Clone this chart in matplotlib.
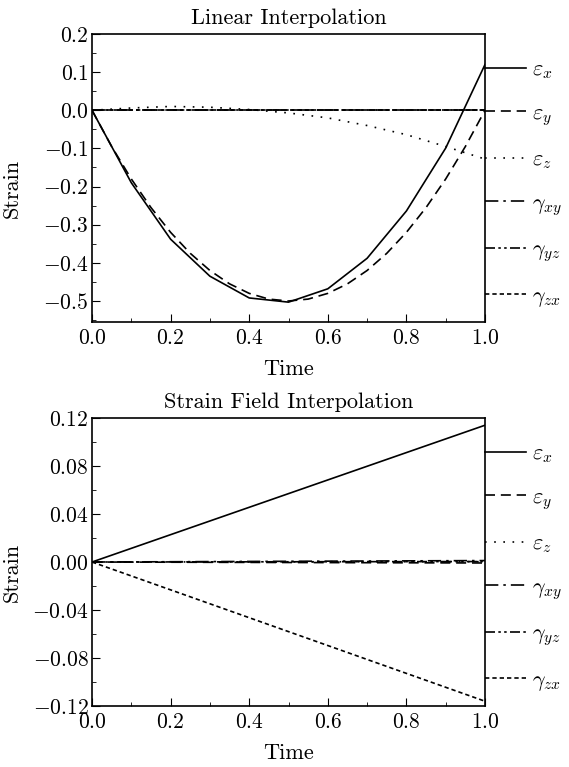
import matplotlib
matplotlib.use("Agg")
import matplotlib.pyplot as plt
from matplotlib.ticker import FuncFormatter

plt.rcParams['font.family'] = 'serif'
plt.rcParams['font.serif'] = ['cmr10', 'DejaVu Serif']
plt.rcParams['mathtext.fontset'] = 'cm'
plt.rcParams['axes.formatter.use_mathtext'] = True

# ---- data: top panel (linear interpolation) ----
t_coarse = [0.0, 0.1, 0.2, 0.3, 0.4, 0.5, 0.6, 0.7, 0.8, 0.9, 1.0]
t_fine = [0.0, 0.05, 0.1, 0.15, 0.2, 0.25, 0.3, 0.35, 0.4, 0.45, 0.5,
          0.55, 0.6, 0.65, 0.7, 0.75, 0.8, 0.85, 0.9, 0.95, 1.0]
lin_ex = [0.0, -0.19, -0.338, -0.435, -0.492, -0.503, -0.468, -0.388, -0.264, -0.099, 0.120]
lin_ey = [0.0, -0.095, -0.18, -0.255, -0.32, -0.375, -0.42, -0.455, -0.48, -0.495, -0.5,
          -0.495, -0.48, -0.455, -0.42, -0.375, -0.32, -0.255, -0.18, -0.095, 0.0]
lin_ez = [0.0, 0.006, 0.010, 0.008, 0.002, -0.007, -0.020, -0.040, -0.064, -0.095, -0.128]
lin_gxy = [0.0, 0.0]
lin_gyz = [0.0, 0.0]
lin_gzx = [0.0, 0.0]

# ---- data: bottom panel (strain field interpolation) ----
t_end = [0.0, 1.0]
sf_ex = [0.0, 0.114]
sf_ey = [0.0, -0.0008]
sf_ez = [0.0, 0.0003]
sf_gxy = [0.0, 0.0012]
sf_gyz = [0.0, 0.0004]
sf_gzx = [0.0, -0.116]

labels = [r'$\varepsilon_x$', r'$\varepsilon_y$', r'$\varepsilon_z$',
          r'$\gamma_{xy}$', r'$\gamma_{yz}$', r'$\gamma_{zx}$']
styles = ['-', (0, (6, 3.5)), (0, (1, 4.5)), (0, (8, 3, 1.5, 3)),
          (0, (6, 2, 1.5, 2, 1.5, 2)), (0, (2.6, 1.8))]

fig = plt.figure(figsize=(5.69, 7.67), dpi=100)
ax1 = fig.add_axes([0.1617, 0.5802, 0.6907, 0.3755])
ax2 = fig.add_axes([0.1617, 0.0795, 0.6907, 0.3755])

top_series = [(t_coarse, lin_ex), (t_fine, lin_ey), (t_coarse, lin_ez),
              (t_end, lin_gxy), (t_end, lin_gyz), (t_end, lin_gzx)]
bot_series = [(t_end, sf_ex), (t_end, sf_ey), (t_end, sf_ez),
              (t_end, sf_gxy), (t_end, sf_gyz), (t_end, sf_gzx)]

for ax, series, title, fmt in [(ax1, top_series, 'Linear Interpolation', '%.1f'),
                               (ax2, bot_series, 'Strain Field Interpolation', '%.2f')]:
    for (x, y), ls, lab in zip(series, styles, labels):
        ax.plot(x, y, color='black', linestyle=ls, linewidth=1.2, label=lab)
    ax.set_xlim(0, 1.0)
    ax.set_xticks([0.0, 0.2, 0.4, 0.6, 0.8, 1.0])
    ax.set_xticks([0.1, 0.3, 0.5, 0.7, 0.9], minor=True)
    ax.tick_params(which='both', direction='in', top=False, right=False, labelsize=15.5)
    ax.tick_params(which='major', length=6, pad=2.5)
    ax.tick_params(axis='x', which='major', pad=5)
    ax.tick_params(which='minor', length=3)
    ax.xaxis.set_major_formatter(FuncFormatter(lambda v, p: '$%.1f$' % v))
    ax.yaxis.set_major_formatter(FuncFormatter(lambda v, p, f=fmt: '$' + (f % v) + '$'))
    ax.set_xlabel('Time', fontsize=16)
    ax.set_ylabel('Strain', fontsize=16)
    ax.xaxis.set_label_coords(0.5, -0.13)
    ax.yaxis.set_label_coords(-0.178, 0.465)
    ax.set_title(title, fontsize=16, pad=7)
    for sp in ax.spines.values():
        sp.set_linewidth(1.2)
    ax.legend(loc='upper left', bbox_to_anchor=(1.0, 0.91), frameon=False,
              fontsize=16, handlelength=1.85, handletextpad=0.25,
              labelspacing=1.0, borderaxespad=0, borderpad=0)

ax1.set_ylim(-0.555, 0.2)
ax1.set_yticks([-0.5, -0.4, -0.3, -0.2, -0.1, 0.0, 0.1, 0.2])
ax1.set_yticks([-0.55, -0.45, -0.35, -0.25, -0.15, -0.05, 0.05, 0.15], minor=True)

ax2.set_ylim(-0.12, 0.12)
ax2.set_yticks([-0.12, -0.08, -0.04, 0.0, 0.04, 0.08, 0.12])
ax2.set_yticks([-0.1, -0.06, -0.02, 0.02, 0.06, 0.1], minor=True)

fig.savefig('out.png', dpi=100)
